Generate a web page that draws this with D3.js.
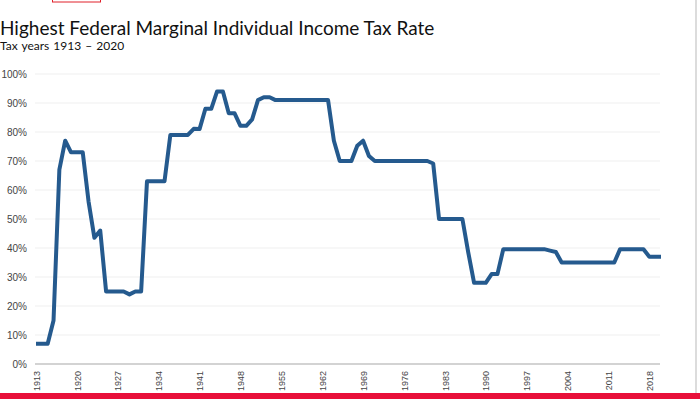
<!DOCTYPE html>
<html lang="en">
<head>
<meta charset="UTF-8">
<title>Highest Federal Marginal Individual Income Tax Rate</title>
<script src="https://d3js.org/d3.v7.min.js"></script>
<style>
    body { margin: 0; padding: 0; background: #fff; }
    svg { display: block; }
    .title { font-family: Lato, "Open Sans", sans-serif; font-size: 19px; fill: #111; }
    .subtitle { font-family: Lato, "Open Sans", sans-serif; font-size: 12px; fill: #111; word-spacing: 1px; }
    .axis text { font-family: "Liberation Sans", Arial, sans-serif; font-size: 9px; fill: #444; }
    .yaxis text { font-size: 10px; }
</style>
</head>
<body>
<script>
    // top marginal rate, one value per tax year
    var years = d3.range(1913, 2021);
    var rates = [
        7, 7, 7, 15, 67, 77, 73, 73, 73, 56,          // 1913-1922
        43.5, 46, 25, 25, 25, 25, 24, 25, 25, 63,     // 1923-1932
        63, 63, 63, 79, 79, 79, 79, 81.1, 81, 88,     // 1933-1942
        88, 94, 94, 86.45, 86.45, 82.13, 82.13, 84.36, 91, 92,  // 1943-1952
        92, 91, 91, 91, 91, 91, 91, 91, 91, 91,       // 1953-1962
        91, 77, 70, 70, 70, 75.25, 77, 71.75, 70, 70, // 1963-1972
        70, 70, 70, 70, 70, 70, 70, 70, 69.13, 50,    // 1973-1982
        50, 50, 50, 50, 38.5, 28, 28, 28, 31, 31,     // 1983-1992
        39.6, 39.6, 39.6, 39.6, 39.6, 39.6, 39.6, 39.6, 39.1, 38.6, // 1993-2002
        35, 35, 35, 35, 35, 35, 35, 35, 35, 35,       // 2003-2012
        39.6, 39.6, 39.6, 39.6, 39.6, 37, 37, 37      // 2013-2020
    ];
    var yTicks = [0, 10, 20, 30, 40, 50, 60, 70, 80, 90, 100];
    var xTicks = d3.range(1913, 2019, 7);

    var width = 700, height = 399;
    var svg = d3.select('body').append('svg')
        .attr('width', width)
        .attr('height', height);

    var x = d3.scaleLinear().domain([1913, 2020]).range([36, 661]);
    var y = d3.scaleLinear().domain([0, 100]).range([364, 74]);

    // little red box at the top
    svg.append('rect')
        .attr('x', 52.5).attr('y', -2)
        .attr('width', 48).attr('height', 4)
        .attr('fill', 'none').attr('stroke', '#e0202a').attr('stroke-width', 1);

    svg.append('text').attr('class', 'title')
        .attr('x', 0).attr('y', 35)
        .text('Highest Federal Marginal Individual Income Tax Rate');
    svg.append('text').attr('class', 'subtitle')
        .attr('x', 0).attr('y', 50)
        .text('Tax years 1913 \u2013 2020');

    // gridlines
    svg.append('g')
        .selectAll('line')
        .data(yTicks.slice(1))
        .enter().append('line')
        .attr('x1', 35).attr('x2', 660)
        .attr('y1', function(d) { return y(d); })
        .attr('y2', function(d) { return y(d); })
        .attr('stroke', '#efefef').attr('stroke-width', 1);

    // y axis labels
    var yAxis = svg.append('g').attr('class', 'axis yaxis')
        .attr('transform', 'translate(35,0)')
        .call(d3.axisLeft(y).tickValues(yTicks).tickSize(0).tickPadding(8)
            .tickFormat(function(d) { return d + '%'; }));
    yAxis.select('.domain').remove();

    // x axis
    var xAxis = svg.append('g').attr('class', 'axis')
        .attr('transform', 'translate(0,' + y(0) + ')')
        .call(d3.axisBottom(x).tickValues(xTicks).tickSize(0).tickFormat(d3.format('d')));
    xAxis.select('.domain').remove();
    xAxis.selectAll('text')
        .attr('transform', 'rotate(-90)')
        .attr('x', -7).attr('y', 0).attr('dy', '0.35em')
        .style('text-anchor', 'end');
    svg.append('line')
        .attr('x1', 35).attr('x2', 660)
        .attr('y1', y(0)).attr('y2', y(0))
        .attr('stroke', '#c4c4c4').attr('stroke-width', 1.5);

    // the rate line
    var line = d3.line()
        .x(function(d, i) { return x(years[i]); })
        .y(function(d) { return y(d); });
    svg.append('path')
        .datum(rates)
        .attr('d', line)
        .attr('fill', 'none')
        .attr('stroke', '#255a8e')
        .attr('stroke-width', 4)
        .attr('stroke-linejoin', 'round');

    // right edge rule and red footer bar
    svg.append('rect').attr('x', 695).attr('y', 0).attr('width', 2).attr('height', 393).attr('fill', '#dcdcdc');
    svg.append('rect').attr('x', 0).attr('y', 393).attr('width', width).attr('height', 6).attr('fill', '#e8103a');
</script>
</body>
</html>
